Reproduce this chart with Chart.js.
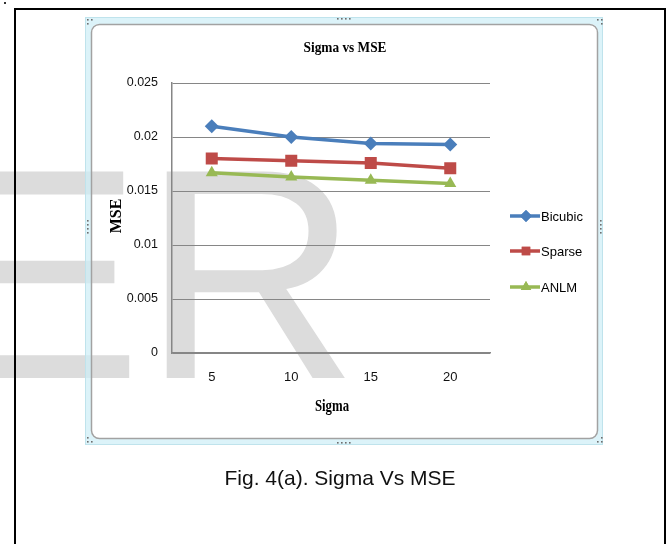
<!DOCTYPE html>
<html>
<head>
<meta charset="utf-8">
<script src="https://cdn.jsdelivr.net/npm/chart.js@4/dist/chart.umd.min.js"></script>
<style>
  html, body { margin: 0; padding: 0; background: #fff; }
  #wrap { position: relative; width: 671px; height: 544px; }
  #caption {
    position: absolute; left: 15px; width: 650px; top: 466px;
    text-align: center; font-family: "Liberation Sans", Arial, sans-serif;
    font-size: 21px; line-height: 24px; color: #111;
  }
</style>
</head>
<body>
<div id="wrap">
  <canvas id="chart" width="671" height="544"></canvas>
  <div id="caption">Fig. 4(a). Sigma Vs MSE</div>
</div>
<script>
// data
var sigmaLabels = ['5', '10', '15', '20'];
var bicubicMse = [0.0210, 0.0200, 0.0194, 0.0193];
var sparseMse = [0.0180, 0.0178, 0.0176, 0.0171];
var anlmMse = [0.0167, 0.0163, 0.0160, 0.0157];
var seriesNames = ['Bicubic', 'Sparse', 'ANLM'];
var seriesColors = ['#4a7ebb', '#be4b48', '#98b954'];
var seriesMarkers = ['rectRot', 'rect', 'triangle'];

var grey = '#868686';

// background: outer box, watermark, excel-like chart frame
var decor = {
    id: 'decor',
    beforeDraw: function(chart) {
        var ctx = chart.ctx;
        ctx.save();
        ctx.fillStyle = '#fff';
        ctx.fillRect(0, 0, 671, 544);

        // watermark
        ctx.fillStyle = '#dcdcdc';
        ctx.font = '300px "Liberation Sans", Arial, sans-serif';
        ctx.textBaseline = 'alphabetic';
        ctx.fillText('ER', -58, 378);

        // small dot top-left
        ctx.fillStyle = '#333';
        ctx.fillRect(4, 2, 2, 2);

        // outer black box
        ctx.strokeStyle = '#000';
        ctx.lineWidth = 2;
        ctx.beginPath();
        ctx.moveTo(15, 560);
        ctx.lineTo(15, 9);
        ctx.lineTo(665, 9);
        ctx.lineTo(665, 560);
        ctx.stroke();

        // cyan selection band
        ctx.beginPath();
        ctx.rect(85, 17, 518, 428);
        ctx.roundRect(91, 24, 507, 415, 8);
        ctx.fillStyle = 'rgba(205,238,246,0.7)';
        ctx.fill('evenodd');
        ctx.strokeStyle = '#bfe3ec';
        ctx.lineWidth = 1;
        ctx.strokeRect(85.5, 17.5, 517, 427);

        // chart border
        ctx.beginPath();
        ctx.roundRect(91.5, 24.5, 506, 414, 8);
        ctx.strokeStyle = '#a2a2a2';
        ctx.lineWidth = 1.5;
        ctx.stroke();

        // handles
        ctx.fillStyle = '#6e6e6e';
        var dots = [[87, 19], [91, 19], [87, 23], [597, 19], [601, 19], [601, 23],
                    [87, 441], [91, 441], [87, 437], [597, 441], [601, 441], [601, 437],
                    [337, 18], [341, 18], [345, 18], [349, 18],
                    [337, 442], [341, 442], [345, 442], [349, 442],
                    [87, 220], [87, 224], [87, 228], [87, 232],
                    [600, 220], [600, 224], [600, 228], [600, 232]];
        dots.forEach(function(d) { ctx.fillRect(d[0], d[1], 1.6, 1.6); });
        ctx.restore();
    },
    afterDraw: function(chart) {
        var ctx = chart.ctx;
        ctx.save();
        ctx.fillStyle = '#000';
        ctx.textAlign = 'center';
        ctx.textBaseline = 'middle';

        // chart title (narrow bold serif like the excel render)
        ctx.save();
        ctx.translate(345, 48);
        ctx.scale(0.86, 1);
        ctx.font = 'bold 15.5px "Liberation Serif", "Times New Roman", serif';
        ctx.fillText('Sigma vs MSE', 0, 0);
        ctx.restore();

        // x axis title
        ctx.save();
        ctx.translate(332, 407);
        ctx.scale(0.8, 1);
        ctx.font = 'bold 16px "Liberation Serif", "Times New Roman", serif';
        ctx.fillText('Sigma', 0, 0);
        ctx.restore();

        // y axis title
        ctx.save();
        ctx.translate(117, 216);
        ctx.rotate(-Math.PI / 2);
        ctx.font = 'bold 16px "Liberation Serif", "Times New Roman", serif';
        ctx.fillText('MSE', 0, 0);
        ctx.restore();

        // legend
        var legendY = [216, 251, 287];
        ctx.textAlign = 'left';
        ctx.font = '13px "Liberation Sans", Arial, sans-serif';
        for (var i = 0; i < seriesNames.length; i++) {
            var y = legendY[i];
            ctx.strokeStyle = seriesColors[i];
            ctx.lineWidth = 3.5;
            ctx.beginPath();
            ctx.moveTo(510, y);
            ctx.lineTo(540, y);
            ctx.stroke();
            ctx.fillStyle = seriesColors[i];
            Chart.helpers.drawPoint(ctx, {
                pointStyle: seriesMarkers[i], radius: 6, rotation: 0, borderWidth: 0
            }, 526, y);
            ctx.fill();
            ctx.fillStyle = '#000';
            ctx.fillText(seriesNames[i], 541, y + 1);
        }
        ctx.restore();
    }
};

function makeSet(i, values) {
    return {
        label: seriesNames[i],
        data: values,
        borderColor: seriesColors[i],
        backgroundColor: seriesColors[i],
        borderWidth: 3.5,
        pointStyle: seriesMarkers[i],
        pointRadius: i === 1 ? 8.5 : 7,
        pointBorderWidth: 0,
        tension: 0
    };
}

var ctx = document.getElementById('chart').getContext('2d');
new Chart(ctx, {
    type: 'line',
    data: {
        labels: sigmaLabels,
        datasets: [makeSet(0, bicubicMse), makeSet(1, sparseMse), makeSet(2, anlmMse)]
    },
    options: {
        responsive: false,
        animation: false,
        layout: { padding: { left: 109, top: 83, right: 181, bottom: 129 } },
        plugins: {
            legend: { display: false },
            title: { display: false },
            tooltip: { enabled: false }
        },
        scales: {
            x: {
                offset: true,
                grid: { display: false, drawTicks: false },
                border: { display: true, color: grey, width: 1.5 },
                ticks: {
                    padding: 17,
                    color: '#111',
                    font: { family: '"Liberation Sans", Arial, sans-serif', size: 13 }
                },
                afterFit: function(s) { s.height = 62; }
            },
            y: {
                min: 0,
                max: 0.025,
                grid: { color: grey, lineWidth: 1, drawTicks: false },
                border: { display: true, color: grey, width: 1.5 },
                ticks: {
                    stepSize: 0.005,
                    padding: 14,
                    color: '#111',
                    font: { family: '"Liberation Sans", Arial, sans-serif', size: 12.5 },
                    callback: function(v) { return String(Number(v.toFixed(3))); }
                },
                afterFit: function(s) { s.width = 63; }
            }
        }
    },
    plugins: [decor]
});
</script>
</body>
</html>
